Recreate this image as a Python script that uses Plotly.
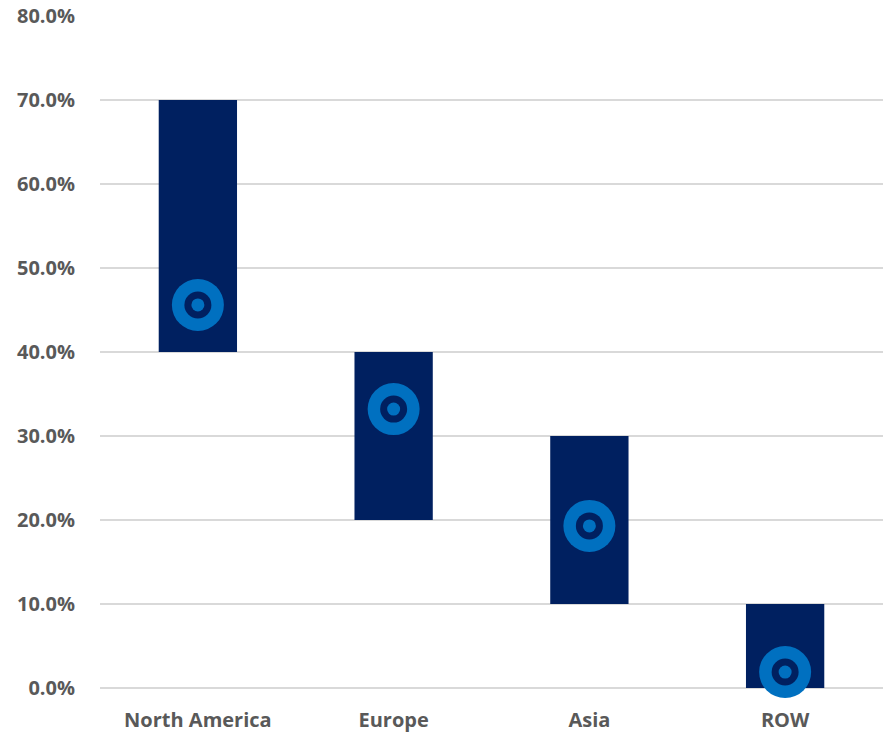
import plotly.graph_objects as go

categories = ["North America", "Europe", "Asia", "ROW"]
range_low = [0.40, 0.20, 0.10, 0.00]
range_high = [0.70, 0.40, 0.30, 0.10]
point_value = [0.456, 0.332, 0.193, 0.019]
y_ticks = [0.0, 0.1, 0.2, 0.3, 0.4, 0.5, 0.6, 0.7, 0.8]

NAVY = "#002060"
BLUE = "#0070C0"
GRAY_TEXT = "#595959"
GRID = "#D9D9D9"

fig = go.Figure()
fig.add_trace(go.Bar(
    x=categories,
    base=range_low,
    y=[h - l for h, l in zip(range_high, range_low)],
    width=0.4,
    marker=dict(color=NAVY, line=dict(width=0)),
    hoverinfo="skip",
))
for size, color in [(52, BLUE), (27, NAVY), (13, BLUE)]:
    fig.add_trace(go.Scatter(
        x=categories, y=point_value, mode="markers",
        marker=dict(size=size, color=color, line=dict(width=0)),
        cliponaxis=False, hoverinfo="skip",
    ))

font = dict(family="Open Sans", size=20, color=GRAY_TEXT, weight="bold")
fig.update_layout(
    width=888, height=732,
    margin=dict(l=100, r=5, t=16, b=44),
    paper_bgcolor="white", plot_bgcolor="white",
    showlegend=False,
    bargap=0.6,
    font=font,
    xaxis=dict(
        showgrid=False, showline=False, zeroline=False, automargin=False,
        ticks="outside", ticklen=14, tickcolor="rgba(0,0,0,0)",
        tickfont=font,
    ),
    yaxis=dict(
        range=[0, 0.8], tickvals=y_ticks, tickformat=".1%", automargin=False,
        showgrid=True, gridcolor=GRID, gridwidth=1.5,
        zeroline=True, zerolinecolor=GRID, zerolinewidth=2,
        showline=False,
        ticks="outside", ticklen=20, tickcolor="rgba(0,0,0,0)",
        tickfont=font,
    ),
)

fig.write_html("out.html")
